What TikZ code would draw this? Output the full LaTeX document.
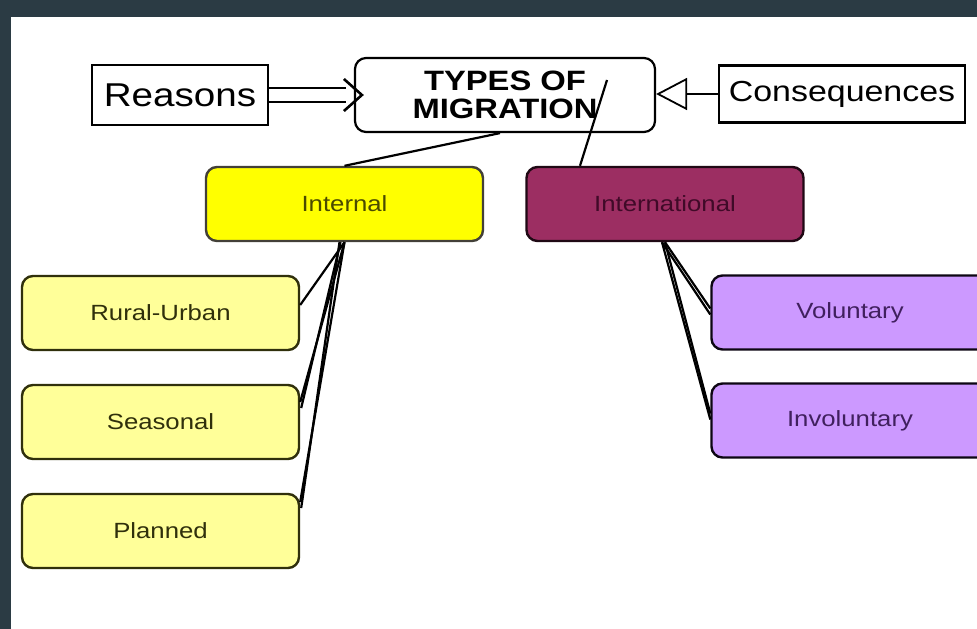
\documentclass[tikz,border=0pt]{standalone}
\usepackage{fontspec}
\setmainfont{Liberation Sans}[FakeStretch=1.17]
\usetikzlibrary{arrows.meta,calc}
\definecolor{frameclr}{HTML}{2B3B44}
\definecolor{yelfill}{HTML}{FFFF00}
\definecolor{yeltext}{HTML}{4A4A00}
\definecolor{maroonfill}{HTML}{9C2E62}
\definecolor{maroontext}{HTML}{400A28}
\definecolor{paleyel}{HTML}{FFFF99}
\definecolor{paletext}{HTML}{30300C}
\definecolor{lavfill}{HTML}{CC99FF}
\definecolor{lavtext}{HTML}{40205E}
\begin{document}
\begin{tikzpicture}[x=1pt,y=-1pt,
  plainbox/.style={draw=black, line width=2.4pt, fill=white, inner sep=0pt},
  headbox/.style={draw=black, line width=2.2pt, fill=white, rounded corners=11pt, inner sep=0pt,
    minimum width=300pt, minimum height=74pt, align=center,
    font=\fontsize{28}{28}\selectfont\bfseries},
  midbox/.style={line width=2.4pt, rounded corners=11pt, inner sep=0pt,
    minimum width=277pt, minimum height=74pt, font=\fontsize{22}{22}\selectfont},
  leafbox/.style={line width=2.4pt, rounded corners=11pt, inner sep=0pt,
    minimum width=277pt, minimum height=74pt, font=\fontsize{22}{22}\selectfont},
  conn/.style={draw=black, line width=2.2pt},
  thk/.style={draw=black, line width=2.6pt}]
\useasboundingbox (0,0) rectangle (977,629);
\clip (0,0) rectangle (977,629);
\fill[frameclr] (0,0) rectangle (977,629);
\fill[white] (11,17) rectangle (977,629);

\node[plainbox, minimum width=176pt, minimum height=60pt, font=\fontsize{33}{33}\selectfont] (reasons) at (180,95) {Reasons};
\node[headbox] (types) at (505,95) {TYPES OF\\MIGRATION};
\node[plainbox, minimum width=246pt, minimum height=57pt, font=\fontsize{29}{29}\selectfont] (cons) at (842,94) {Consequences};

\node[midbox, draw=black!85!yellow, fill=yelfill, text=yeltext] (internal) at (344.5,204) {Internal};
\node[midbox, draw=black!80!maroonfill, fill=maroonfill, text=maroontext] (intl) at (665,204) {International};

\node[leafbox, draw=paletext, fill=paleyel, text=paletext] (rural) at (160.5,313) {Rural-Urban};
\node[leafbox, draw=paletext, fill=paleyel, text=paletext] (seasonal) at (160.5,422) {Seasonal};
\node[leafbox, draw=paletext, fill=paleyel, text=paletext] (planned) at (160.5,531) {Planned};

\node[leafbox, draw=black!80!lavtext, fill=lavfill, text=lavtext] (vol) at (850,312.5) {Voluntary};
\node[leafbox, draw=black!80!lavtext, fill=lavfill, text=lavtext] (invol) at (850,420.5) {Involuntary};

% Reasons -> Types (double arrow)
\draw[thk] ($(reasons.east)+(0,-7)$) -- ($(types.west)+(-8,-7)$);
\draw[thk] ($(reasons.east)+(0,7)$) -- ($(types.west)+(-8,7)$);
\draw[thk, line join=miter] ($(types.west)+(-10,-16)$) -- ($(types.west)+(8,0)$) -- ($(types.west)+(-10,16)$);

% Consequences -> Types (open triangle)
\draw[line width=1.8pt, -{Triangle[open, length=31pt, width=32pt, line width=1.8pt]}] (cons.west) -- (cons.west -| types.east);

% Types -> Internal / International
\draw[conn] ($(types.south)+(-5,0)$) -- (internal.north);
\draw[conn] ($(types.center)+(102,-15)$) -- ($(intl.north)+(-85,0)$);

% Internal -> children
\draw[conn] (internal.south) -- ($(rural.east)+(0,-8)$);
\draw[conn] (internal.south) -- ($(seasonal.east)+(0,-20)$);
\draw[conn] ($(internal.south)+(-4,0)$) -- ($(seasonal.east)+(1,-14)$);
\draw[conn] (internal.south) -- ($(planned.east)+(0,-29)$);
\draw[conn] ($(internal.south)+(-5,0)$) -- ($(planned.east)+(1,-23)$);

% International -> children
\draw[conn] (intl.south) -- ($(vol.west)+(0,-4)$);
\draw[conn] ($(intl.south)+(-3,0)$) -- ($(vol.west)+(0,2)$);
\draw[conn] (intl.south) -- ($(invol.west)+(0,-7)$);
\draw[conn] ($(intl.south)+(-3,0)$) -- ($(invol.west)+(0,-1)$);
\end{tikzpicture}
\end{document}
